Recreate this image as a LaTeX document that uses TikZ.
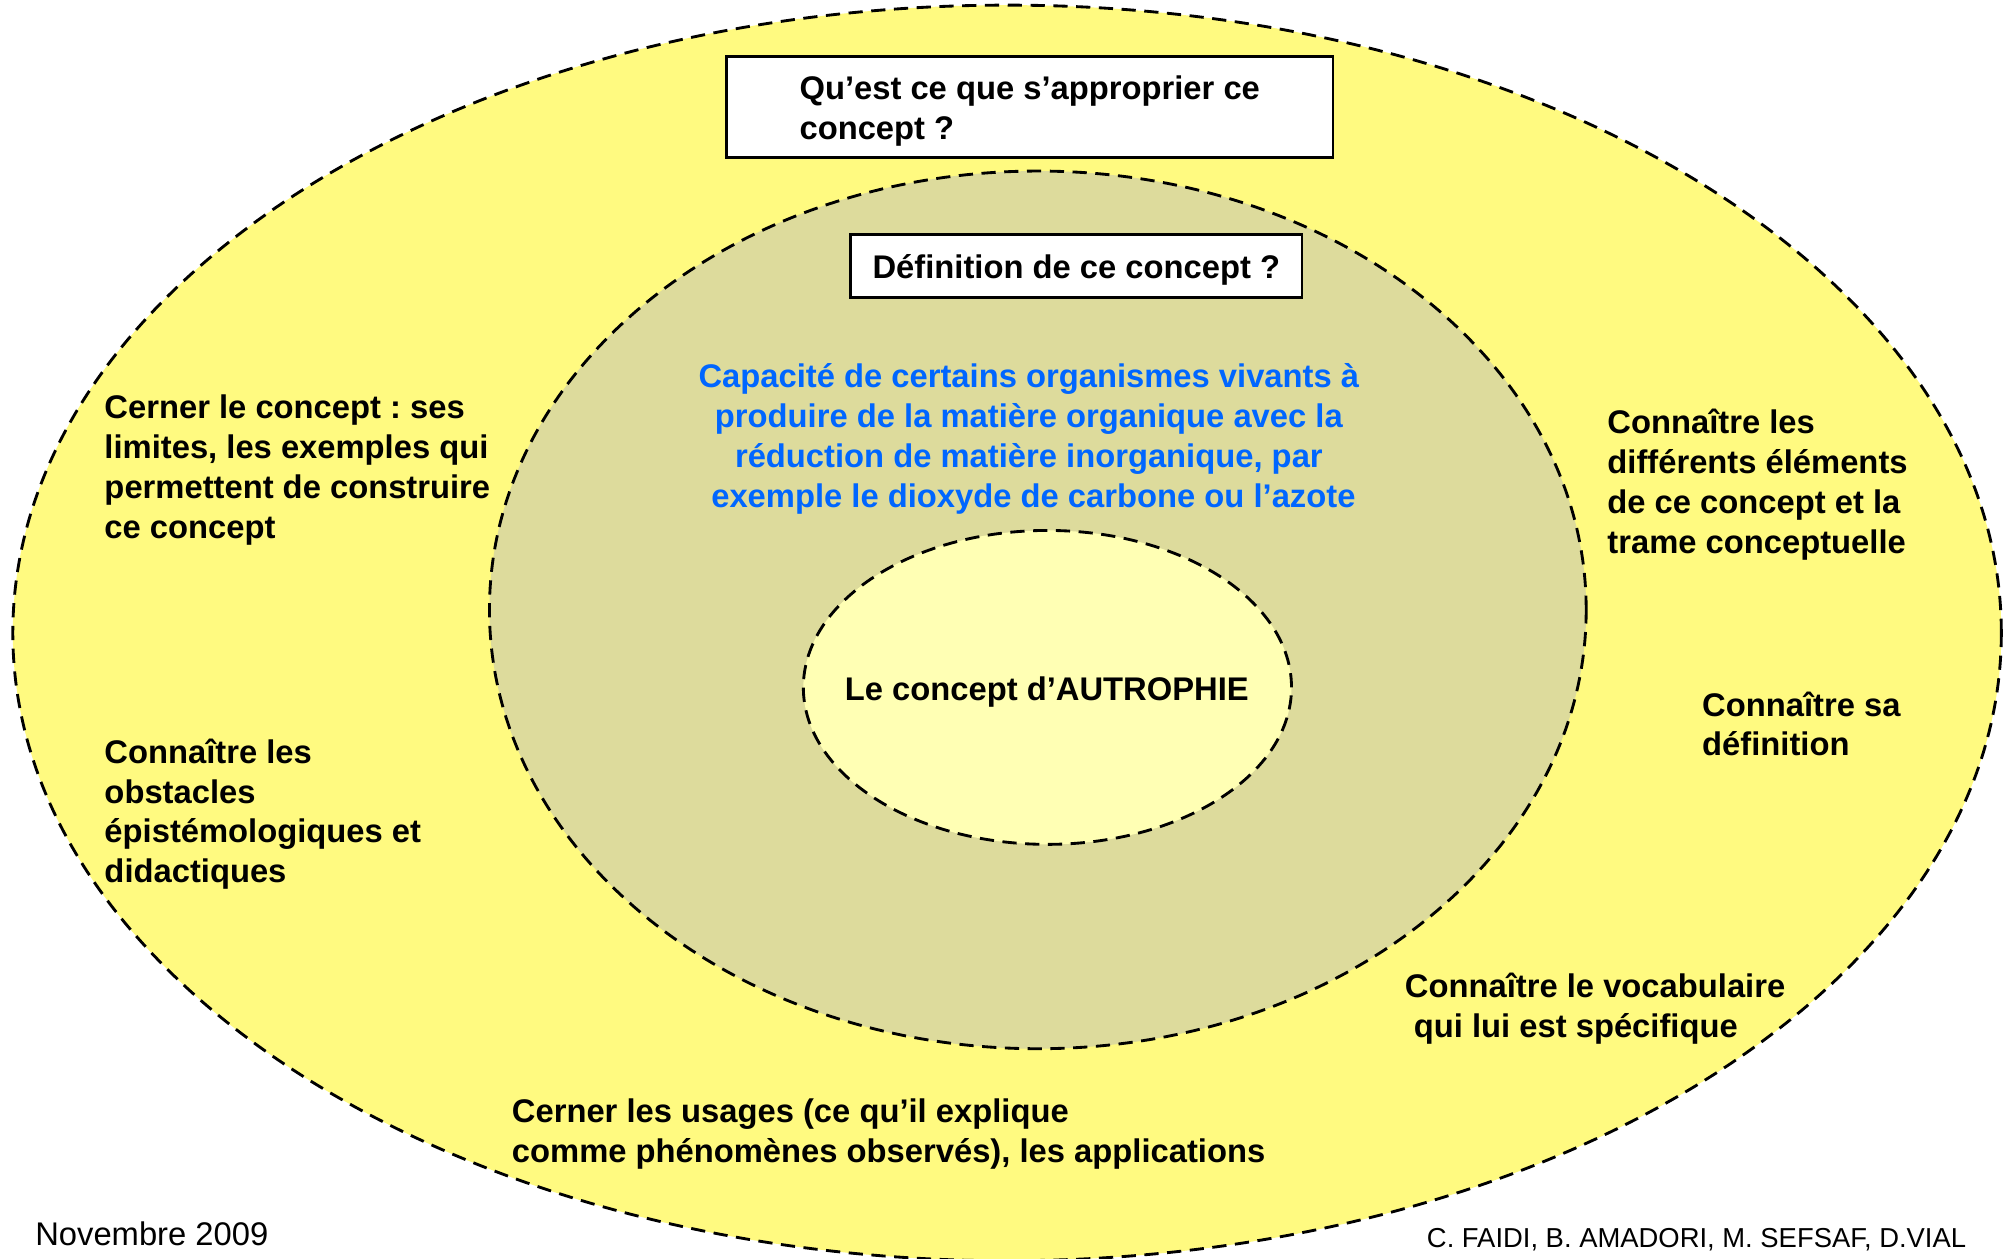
\documentclass[tikz,border=0pt]{standalone}
\usepackage{fontspec}
\setmainfont{Liberation Sans}
\frenchspacing
\usetikzlibrary{shapes.geometric}
\newlength\px \setlength\px{0.36pt}
\definecolor{outerY}{RGB}{255,250,128}
\definecolor{midY}{RGB}{221,219,156}
\definecolor{innerY}{RGB}{255,255,180}
\definecolor{defblue}{RGB}{0,102,255}
\tikzset{
  ring/.style={ellipse, draw, line width=0.8pt, dash pattern=on 4pt off 2.4pt, inner sep=0pt, outer sep=0pt},
  bfont/.style={font=\fontsize{9.2}{11.2}\selectfont\bfseries},
  lbl/.style={bfont, align=left, inner sep=0pt, anchor=base west},
  qbox/.style={draw, fill=white, line width=0.75pt, bfont, align=left, anchor=west, inner ysep=0pt},
  foot/.style={inner sep=0pt}
}
\begin{document}
\begin{tikzpicture}[x=0.36pt, y=-0.36pt]
\useasboundingbox (0,0) rectangle (1568,982);
\node[ring, fill=outerY, minimum width=1552\px, minimum height=980\px] (outer) at (786,494) {};
\node[ring, fill=midY, minimum width=856\px, minimum height=685\px] (middle) at (810,476) {};
\node[ring, fill=innerY, minimum width=381\px, minimum height=245\px] (core) at (817.5,536.5) {};
\node[bfont, inner sep=0pt] (coretext) at (817,540) {Le concept d’AUTROPHIE};

\node[qbox, inner xsep=57\px, minimum height=79\px] (q) at (566,83.5) {\rule{0pt}{9pt}Qu’est ce que s’approprier ce\\concept ?};
\node[qbox, inner xsep=17\px, minimum height=49\px, text height=9pt, text depth=1.9pt] (def) at (663,207.5) {Définition de ce concept ?};

\node[bfont, align=center, inner sep=0pt, anchor=base, text=defblue] (blue) at (803,396)
  {Capacité de certains organismes vivants à\\produire de la matière organique avec la\\réduction de matière inorganique, par\\\ exemple le dioxyde de carbone ou l’azote};

\node[lbl] (l1) at (81,420) {Cerner le concept : ses\\limites, les exemples qui\\permettent de construire\\ce concept};
\node[lbl] (l2) at (81,689) {Connaître les\\obstacles\\épistémologiques et\\didactiques};
\node[lbl] (r1) at (1254,432) {Connaître les\\différents éléments\\de ce concept et la\\trame conceptuelle};
\node[lbl] (r2) at (1328,590) {Connaître sa\\définition};
\node[lbl] (r3) at (1096,810) {Connaître le vocabulaire\\\hspace*{2.5pt}qui lui est spécifique};
\node[lbl] (b1) at (399,907) {Cerner les usages (ce qu’il explique\\comme phénomènes observés), les applications};

\node[foot, anchor=base west, font=\fontsize{9.2}{11}\selectfont] (date) at (27,972) {Novembre 2009};
\node[foot, anchor=base east, font=\fontsize{7.7}{9}\selectfont] (auth) at (1535,974) {C. FAIDI, B. AMADORI, M. SEFSAF, D.VIAL};
\end{tikzpicture}
\end{document}
